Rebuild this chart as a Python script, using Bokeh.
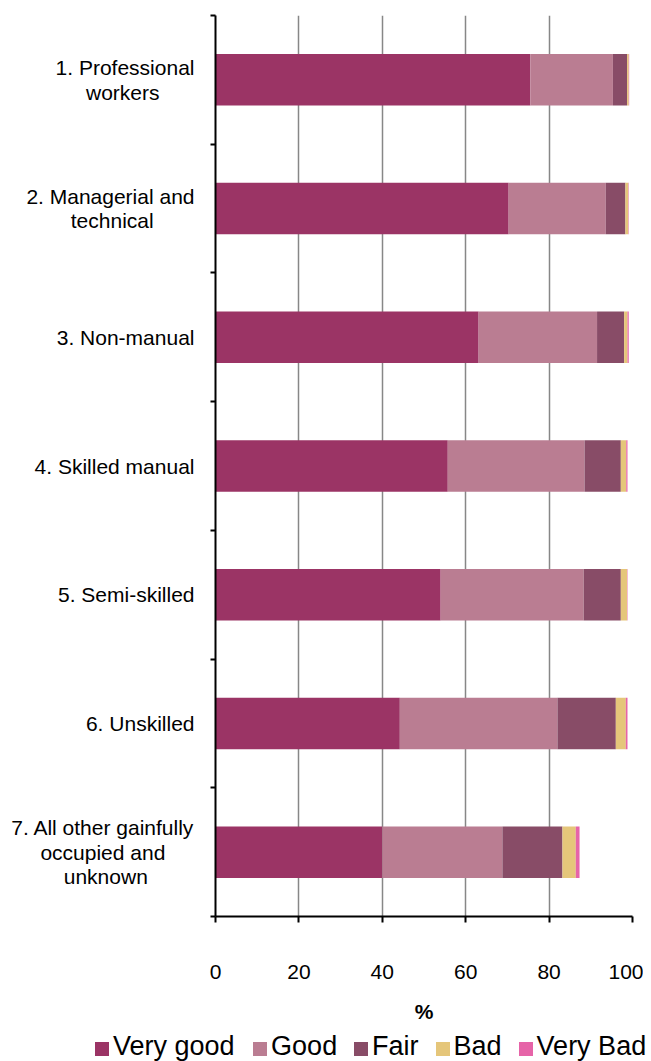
from bokeh.plotting import figure
from bokeh.layouts import column
from bokeh.models import (ColumnDataSource, FixedTicker, Range1d, LinearAxis, Div)
from bokeh.embed import file_html
from bokeh.resources import INLINE

categories = [
    "1. Professional\nworkers",
    "2. Managerial and\ntechnical",
    "3. Non-manual",
    "4. Skilled manual",
    "5. Semi-skilled",
    "6. Unskilled",
    "7. All other gainfully\noccupied and\nunknown",
]
series_names = ["Very good", "Good", "Fair", "Bad", "Very Bad"]
very_good = [75.5, 70.3, 63.1, 55.7, 54.0, 44.2, 40.0]
good = [19.8, 23.3, 28.4, 32.8, 34.3, 37.8, 28.8]
fair = [3.4, 4.7, 6.5, 8.7, 8.9, 14.0, 14.4]
bad = [0.4, 0.7, 0.8, 1.3, 1.5, 2.4, 3.2]
very_bad = [0.1, 0.1, 0.3, 0.3, 0.1, 0.4, 0.9]
colors = ["#9B3465", "#BA7D92", "#884C67", "#E5C67A", "#E664A8"]
x_ticks = [0, 20, 40, 60, 80, 100]

n = len(categories)
ypos = [n - 1 - i + 0.5 for i in range(n)]
keys = ["vg", "g", "f", "b", "vb"]
source = ColumnDataSource(dict(y=ypos, vg=very_good, g=good, f=fair, b=bad, vb=very_bad))

FONT = "Liberation Sans"

p = figure(width=643, height=1025, output_backend="svg", toolbar_location=None,
           x_range=Range1d(0, 100), y_range=Range1d(0, n),
           min_border_left=215, min_border_right=11, min_border_top=15,
           min_border_bottom=109)
p.outline_line_color = None

renderers = p.hbar_stack(keys, y="y", height=0.4, color=colors, source=source,
                         line_width=0)

# x axis
p.xaxis.ticker = FixedTicker(ticks=x_ticks)
p.xaxis.axis_line_color = "black"
p.xaxis.axis_line_width = 2
p.xaxis.major_tick_line_color = "black"
p.xaxis.major_tick_line_width = 2
p.xaxis.major_tick_out = 6
p.xaxis.major_tick_in = 0
p.xaxis.minor_tick_line_color = None
p.xaxis.major_label_text_font = FONT
p.xaxis.major_label_text_font_size = "21px"
p.xaxis.major_label_text_color = "black"
p.xaxis.major_label_standoff = 42
p.xaxis.axis_label = "%"
p.xaxis.axis_label_text_font = FONT
p.xaxis.axis_label_text_font_size = "21px"
p.xaxis.axis_label_text_font_style = "bold"
p.xaxis.axis_label_text_color = "black"
p.xaxis.axis_label_standoff = 18

# y axis (category boundaries)
p.yaxis.ticker = FixedTicker(ticks=list(range(n + 1)))
p.yaxis.major_label_overrides = {i: "" for i in range(n + 1)}
p.yaxis.axis_line_color = "black"
p.yaxis.axis_line_width = 2
p.yaxis.major_tick_line_color = "black"
p.yaxis.major_tick_line_width = 2
p.yaxis.major_tick_out = 5
p.yaxis.major_tick_in = 0
p.yaxis.minor_tick_line_color = None

# Arial/Liberation Sans advance widths (per 1000 em)
W = {'a': 556, 'b': 556, 'c': 500, 'd': 556, 'e': 556, 'f': 278, 'g': 556, 'h': 556,
     'i': 222, 'j': 222, 'k': 500, 'l': 222, 'm': 833, 'n': 556, 'o': 556, 'p': 556,
     'q': 556, 'r': 333, 's': 500, 't': 278, 'u': 556, 'v': 500, 'w': 722, 'x': 500,
     'y': 500, 'z': 500, ' ': 278, '.': 278, '-': 333, 'A': 667, 'B': 667, 'F': 611,
     'G': 778, 'M': 833, 'N': 722, 'P': 667, 'S': 667, 'U': 722, 'V': 667}


def tw(s):
    return sum(W.get(c, 556) for c in s)


def centre_lines(label):
    lines = label.split("\n")
    wmax = max(tw(l) for l in lines)
    out = []
    for l in lines:
        pad = int(round((wmax - tw(l)) / 2.0 / 278))
        out.append(l + "\u00a0" * pad)
    return "\n".join(out)


cat_axis = LinearAxis(ticker=FixedTicker(ticks=ypos),
                      major_label_overrides={y: centre_lines(c) for y, c in zip(ypos, categories)},
                      axis_line_color=None, major_tick_line_color=None,
                      minor_tick_line_color=None, major_label_standoff=10,
                      major_label_text_font=FONT, major_label_text_font_size="21px",
                      major_label_text_color="black", major_label_text_line_height=1.07)
p.add_layout(cat_axis, "left")

p.xgrid.ticker = FixedTicker(ticks=x_ticks[1:])
p.xgrid.grid_line_color = "#878787"
p.xgrid.grid_line_width = 1.5
p.ygrid.grid_line_color = None

# legend strip below the chart
LFS = 27
SQ = 14
x = 95.0
parts = []
for name, c in zip(series_names, colors):
    parts.append(f'<div style="position:absolute;left:{x:.1f}px;top:17px;width:{SQ}px;'
                 f'height:{SQ}px;background:{c};"></div>')
    parts.append(f'<span style="position:absolute;left:{x + SQ + 4:.1f}px;top:8px;'
                 f'line-height:{LFS}px;white-space:nowrap;">{name}</span>')
    x += SQ + 4 + tw(name) * LFS / 1000.0 + 17

html = (f'<div style="position:relative;width:643px;height:36px;'
        f'font-family:\'{FONT}\';font-size:{LFS}px;color:black;">' + "".join(parts) + '</div>')
legend_div = Div(text=html, width=643, height=36, margin=0)

layout = column(p, legend_div, spacing=0)
open("out.html", "w").write(file_html(layout, INLINE))
